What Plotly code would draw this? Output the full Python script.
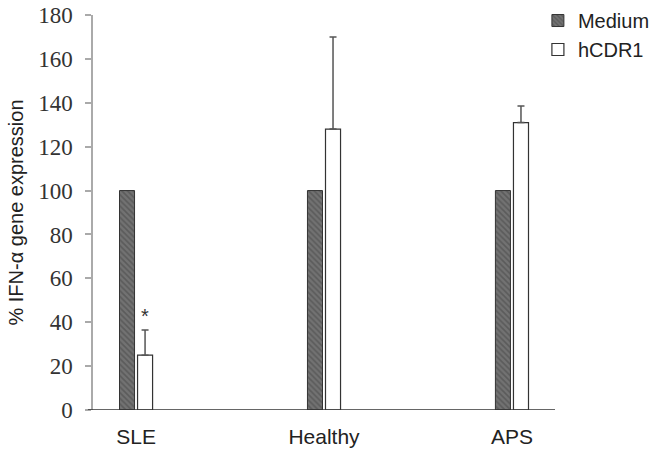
import plotly.graph_objects as go

categories = ["SLE", "Healthy", "APS"]
medium = [100, 100, 100]
hcdr1 = [25, 128, 131]
hcdr1_err = [11.5, 42, 7.5]
y_ticks = [0, 20, 40, 60, 80, 100, 120, 140, 160, 180]

xpos = list(range(len(categories)))
bar_w = 0.08

fig = go.Figure()
fig.add_trace(go.Bar(
    x=xpos, y=medium, name="Medium", width=bar_w, offset=-0.088,
    marker=dict(color="#5a5a5a", line=dict(color="#333333", width=1),
                pattern=dict(shape="\\", fgcolor="#444444", bgcolor="#727272", size=4, solidity=0.4)),
))
fig.add_trace(go.Bar(
    x=xpos, y=hcdr1, name="hCDR1", width=bar_w, offset=0.008,
    marker=dict(color="white", line=dict(color="#333333", width=1.2)),
    error_y=dict(type="data", symmetric=False, array=hcdr1_err, arrayminus=[0, 0, 0],
                 color="#555555", thickness=1.5, width=3.5),
))

fig.add_annotation(x=0.048, y=43, text="*", showarrow=False, xref="x", yref="y",
                   font=dict(family="Arial", size=20, color="#333333"))

fig.add_shape(type="line", xref="paper", yref="y", x0=-0.011, x1=1, y0=0, y1=0,
              line=dict(color="#333333", width=1.5))

fig.update_layout(
    width=661, height=456,
    margin=dict(l=93, r=106, t=15, b=46, autoexpand=False),
    paper_bgcolor="white", plot_bgcolor="white",
    barmode="overlay",
    showlegend=True,
    hovermode=False,
    legend=dict(x=0.963, xanchor="left", y=1.0354, yanchor="top",
                font=dict(family="Arial", size=20, color="#222222"),
                bgcolor="rgba(0,0,0,0)", tracegroupgap=0, itemwidth=30),
    xaxis=dict(range=[-0.229, 2.229], tickvals=xpos, ticktext=categories,
               showline=False, showgrid=False, zeroline=False, ticks="",
               ticklabelstandoff=12,
               tickfont=dict(family="Arial", size=21, color="#222222")),
    yaxis=dict(range=[0, 180], tickvals=y_ticks, showgrid=False, zeroline=False,
               showline=True, linecolor="#aaaaaa", linewidth=1.5,
               ticks="outside", ticklen=6, tickcolor="#aaaaaa", tickwidth=1.5,
               ticklabelstandoff=8,
               tickfont=dict(family="Liberation Serif, Times New Roman, serif", size=23, color="#333333"),
               title=dict(text="% IFN-α gene expression", standoff=9,
                          font=dict(family="Arial", size=20, color="#222222"))),
)

fig.write_html("out.html", config={"displayModeBar": False},
               post_script="document.body.style.margin='0';document.body.style.overflow='hidden';")
